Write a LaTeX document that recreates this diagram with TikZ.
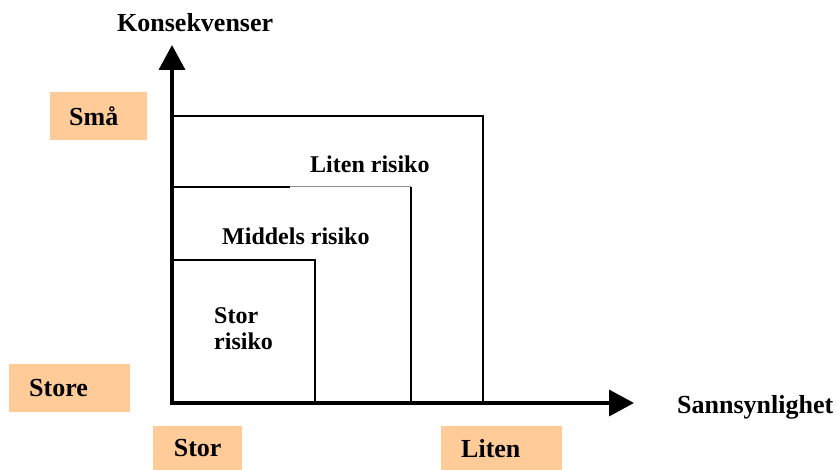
\documentclass[tikz,border=0pt]{standalone}
\usepackage{fontspec}
\setmainfont{Liberation Serif}
\usetikzlibrary{arrows.meta}
\definecolor{labelorange}{HTML}{FFCC99}
\tikzset{
  axisline/.style={line width=3.6pt, -{Triangle[width=26pt,length=25pt]}},
  zoneline/.style={line width=1.8pt},
  faintline/.style={line width=1pt, black!45},
  tagbox/.style={fill=labelorange, anchor=north west, inner xsep=0pt, inner ysep=0pt,
    font=\bfseries\fontsize{26}{30}\selectfont},
  caption/.style={anchor=base west, inner sep=0pt, font=\bfseries\fontsize{26}{30}\selectfont},
  zonetext/.style={anchor=base west, inner sep=0pt, font=\bfseries\fontsize{24}{28}\selectfont}
}
\begin{document}
\begin{tikzpicture}[x=1pt, y=-1pt]
\useasboundingbox (0,0) rectangle (839,470);

% origin of the risk chart and axis ends
\coordinate (o) at (172,403);
\coordinate (ytip) at (172,45);
\coordinate (xtip) at (634,403);

% risk zones (outer to inner)
\coordinate (lowtl) at (172,116);
\coordinate (lowtr) at (483,116);
\coordinate (lowbr) at (483,403);
\coordinate (midtl) at (172,187);
\coordinate (midgap) at (290,187);
\coordinate (midtr) at (411,187);
\coordinate (midbr) at (411,403);
\coordinate (hightl) at (172,260);
\coordinate (hightr) at (315,260);
\coordinate (highbr) at (315,403);

\draw[zoneline] (lowtl) -- (lowtr) -- (lowbr);
\draw[zoneline] (midtl) -- (midgap);
\draw[faintline] (midgap) -- (midtr);
\draw[zoneline] (midtr) -- (midbr);
\draw[zoneline] (hightl) -- (hightr) -- (highbr);

% axes
\draw[axisline, line cap=butt] (o) -- (ytip);
\draw[axisline] ([xshift=-1.8pt]o) -- (xtip);

% axis captions
\node[caption] (kons) at (117,32) {Konsekvenser};
\node[caption] (sann) at (677,414) {Sannsynlighet};

% zone labels
\node[zonetext] (liten) at (310,173) {Liten risiko};
\node[zonetext] (middels) at (222,245) {Middels risiko};
\node[zonetext, align=left, anchor=north west] (stor) at (214,307) {Stor\\[-2pt]risiko};

% scale tags
\node[tagbox, minimum width=97pt, minimum height=48pt, text width=59pt, align=left] (sma) at (50,92) {Små};
\node[tagbox, minimum width=121pt, minimum height=48pt, text width=81pt, align=left] (store) at (9,364) {Store};
\node[tagbox, minimum width=89pt, minimum height=44pt, text width=89pt, align=center] (storx) at (153,426) {Stor};
\node[tagbox, minimum width=121pt, minimum height=44pt, text width=81pt, align=left] (litenx) at (441,426) {Liten};
\end{tikzpicture}
\end{document}
